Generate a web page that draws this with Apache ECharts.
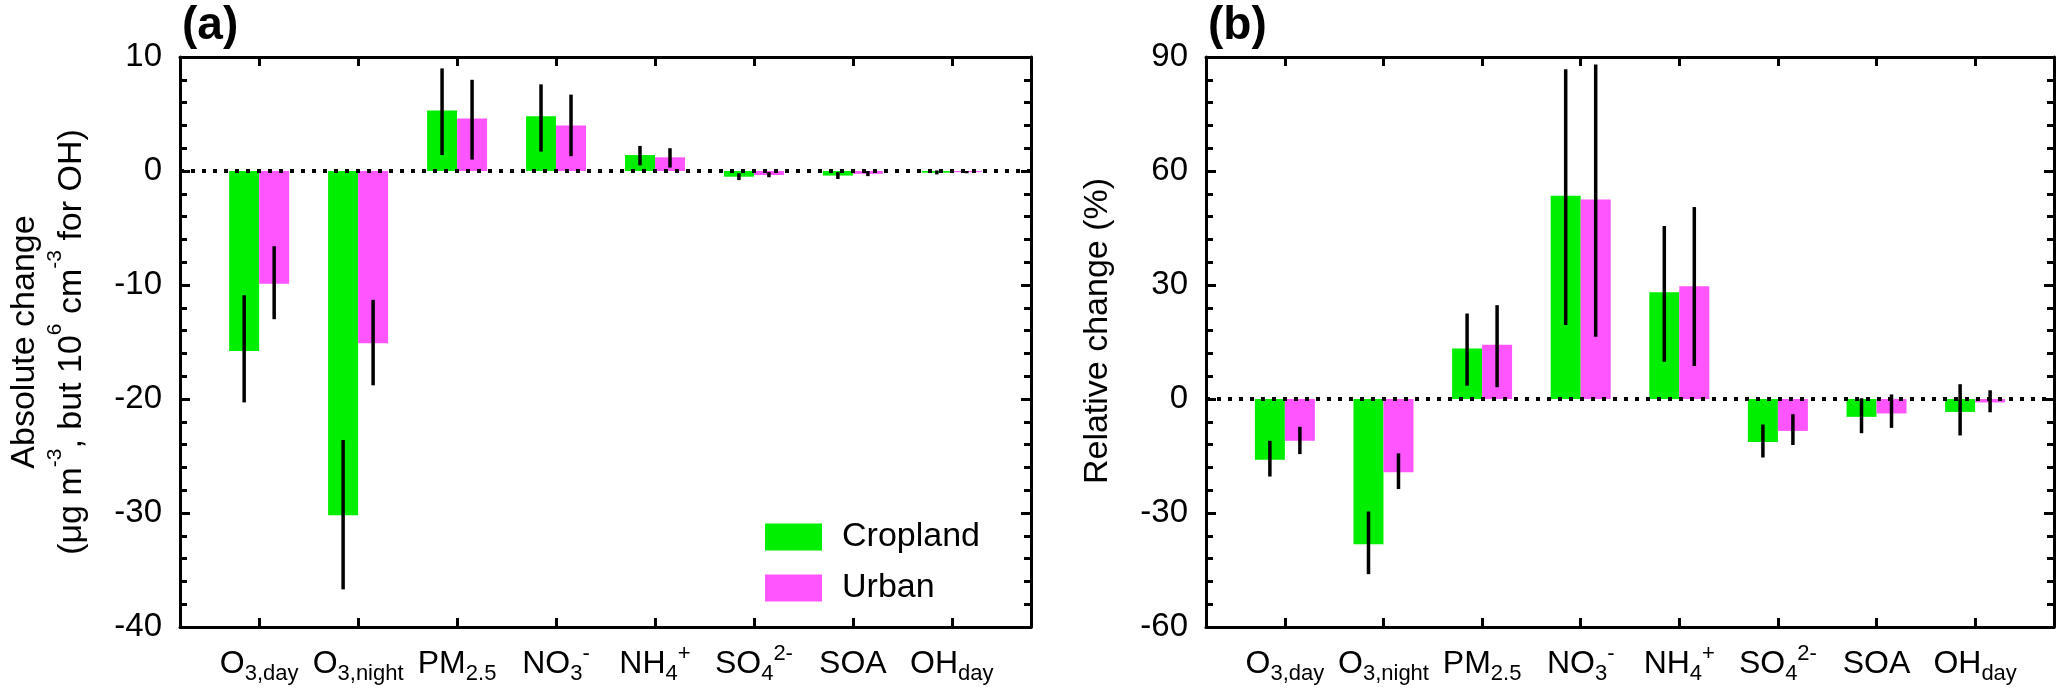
<!DOCTYPE html>
<html><head><meta charset="utf-8">
<script src="https://cdn.jsdelivr.net/npm/echarts@6/dist/echarts.min.js"></script>
<style>html,body{margin:0;padding:0;background:#fff}#c{width:2067px;height:690px}</style>
</head><body><div id="c"></div>
<script>
// ---------- data ----------
const categories = ['O3,day', 'O3,night', 'PM2.5', 'NO3-', 'NH4+', 'SO42-', 'SOA', 'OHday'];
const categoryLabels = ['O{sub|3,day}', 'O{sub|3,night}', 'PM{sub|2.5}', 'NO{sub|3}{sup|-}', 'NH{sub|4}{sup|+}', 'SO{sub|4}{sup|2-}', 'SOA', 'OH{sub|day}'];
const seriesNames = ['Cropland', 'Urban'];

// (a) absolute change
const absCropland     = [-15.8, -30.2, 5.3, 4.8, 1.4, -0.5, -0.4, -0.15];
const absCroplandLow  = [-20.3, -36.7, 1.4, 1.7, 0.5, -0.8, -0.7, -0.3];
const absCroplandHigh = [-10.9, -23.6, 9.0, 7.6, 2.2, -0.2, -0.1, 0.05];
const absUrban        = [-9.9, -15.1, 4.6, 4.0, 1.2, -0.35, -0.25, -0.1];
const absUrbanLow     = [-13.0, -18.8, 1.0, 1.3, 0.3, -0.55, -0.45, -0.2];
const absUrbanHigh    = [-6.6, -11.3, 8.0, 6.7, 2.0, -0.1, 0.0, 0.0];
const absTicks = [-40, -30, -20, -10, 0, 10];

// (b) relative change (%)
const relCropland     = [-16.0, -38.2, 13.3, 53.5, 28.1, -11.3, -4.7, -3.4];
const relCroplandLow  = [-20.4, -46.1, 3.5, 19.5, 9.8, -15.4, -9.0, -9.6];
const relCroplandHigh = [-11.0, -29.6, 22.5, 86.8, 45.5, -6.7, 0.2, 3.9];
const relUrban        = [-11.0, -19.3, 14.3, 52.5, 29.7, -8.4, -3.8, -0.9];
const relUrbanLow     = [-14.5, -23.7, 3.1, 16.4, 8.7, -12.1, -7.6, -3.5];
const relUrbanHigh    = [-7.3, -14.3, 24.7, 88.0, 50.5, -4.0, 1.2, 2.3];
const relTicks = [-60, -30, 0, 30, 60, 90];

const absName = 'Absolute change\n(μg m{sup|-3}, but 10{sup|6} cm{sup|-3} for OH)';
const relName = 'Relative change (%)';
const panelTitles = ['(a)', '(b)'];

// ---------- style ----------
const FONT = '"Liberation Sans", Arial, Helvetica, sans-serif';
const GREEN = '#00ee00', PINK = '#ff55ff';
const BAR_W = 30;
const grids = [
  {left: 180, top: 57, width: 851, height: 570},
  {left: 1206, top: 57, width: 848, height: 570}
];
const idx = categories.map((_, i) => i);
const xMin = -0.8, xMax = categories.length - 1 + 0.8;
const subSup = {
  sub: {fontSize: 22, lineHeight: 22, verticalAlign: 'bottom', fontFamily: FONT, color: '#000'},
  sup: {fontSize: 22, lineHeight: 22, verticalAlign: 'top', fontFamily: FONT, color: '#000'}
};
const lineBlack = {color: '#000', width: 3};

function makeX(grid, pos, labels) {
  return {
    type: 'value', gridIndex: grid, position: pos, min: xMin, max: xMax,
    axisLine: {show: true, onZero: false, lineStyle: lineBlack},
    axisTick: {show: true, inside: true, length: 9, customValues: idx, lineStyle: lineBlack},
    axisLabel: {
      show: labels, customValues: idx, margin: 16,
      formatter: v => categoryLabels[Math.round(v)],
      color: '#000', fontFamily: FONT, fontSize: 32, lineHeight: 42, rich: subSup
    },
    splitLine: {show: false}
  };
}
function makeY(grid, pos, ticks, labels, name, gap, shift) {
  return {
    type: 'value', gridIndex: grid, position: pos,
    min: ticks[0], max: ticks[ticks.length - 1], interval: ticks[1] - ticks[0],
    axisLine: {show: true, onZero: false, lineStyle: lineBlack},
    axisTick: {show: true, inside: true, length: 10, lineStyle: lineBlack},
    minorTick: {show: true, splitNumber: 5, length: 7, lineStyle: lineBlack},
    axisLabel: {show: labels, margin: 18, color: '#000', fontFamily: FONT, fontSize: 33},
    splitLine: {show: false}, minorSplitLine: {show: false},
    name: labels ? name : '', nameLocation: 'middle', nameGap: gap || 0,
    nameTextStyle: {
      color: '#000', fontFamily: FONT, fontSize: 34, lineHeight: 47,
      padding: [0, 0, 0, shift || 0],
      rich: {sup: {fontSize: 21, lineHeight: 15, height: 15, verticalAlign: 'top', fontFamily: FONT, color: '#000'}}
    }
  };
}

const panels = [
  {vals: [absCropland, absUrban], lows: [absCroplandLow, absUrbanLow], highs: [absCroplandHigh, absUrbanHigh]},
  {vals: [relCropland, relUrban], lows: [relCroplandLow, relUrbanLow], highs: [relCroplandHigh, relUrbanHigh]}
];
const colors = [GREEN, PINK];

const series = [];
panels.forEach((p, pi) => {
  seriesNames.forEach((name, si) => {
    series.push({
      type: 'bar', name: name, xAxisIndex: pi * 2, yAxisIndex: pi * 2,
      data: p.vals[si].map((v, i) => [i, v]),
      barWidth: BAR_W, barGap: '0%',
      itemStyle: {color: colors[si]}, z: 2, silent: true
    });
  });
  seriesNames.forEach((name, si) => {
    const off = (si === 0 ? -1 : 1) * BAR_W / 2;
    const s = {
      type: 'custom', name: name + ' error', xAxisIndex: pi * 2, yAxisIndex: pi * 2,
      data: p.lows[si].map((l, i) => [i, l, p.highs[si][i]]),
      encode: {x: 0, y: [1, 2]}, z: 4, silent: true,
      renderItem: (params, api) => {
        const a = api.coord([api.value(0), api.value(1)]);
        const b = api.coord([api.value(0), api.value(2)]);
        return {type: 'line', shape: {x1: a[0] + off, y1: a[1], x2: a[0] + off, y2: b[1]},
                style: {stroke: '#000', lineWidth: 3.5}};
      }
    };
    if (si === 0) {
      s.markLine = {symbol: 'none', silent: true, label: {show: false}, z: 6,
        lineStyle: {color: '#000', type: [4, 7], width: 4}, emphasis: {disabled: true},
        data: [{yAxis: 0}]};
    }
    series.push(s);
  });
});

const option = {
  animation: false,
  backgroundColor: '#fff',
  textStyle: {fontFamily: FONT},
  title: panelTitles.map((t, i) => ({
    text: t, left: grids[i].left + 2, top: 3, padding: 0,
    textStyle: {fontSize: 46, fontWeight: 'bold', color: '#000', fontFamily: FONT}
  })),
  legend: {
    data: seriesNames, orient: 'vertical', left: 765, top: 520, padding: 0,
    itemWidth: 57, itemHeight: 27, itemGap: 17, icon: 'rect',
    textStyle: {fontSize: 34, color: '#000', fontFamily: FONT, lineHeight: 27, padding: [0, 0, 0, 15]},
    selectedMode: false
  },
  grid: grids.map(g => Object.assign({outerBoundsMode: 'none', containLabel: false}, g)),
  xAxis: [makeX(0, 'bottom', true), makeX(0, 'top', false), makeX(1, 'bottom', true), makeX(1, 'top', false)],
  yAxis: [makeY(0, 'left', absTicks, true, absName, 85, 0), makeY(0, 'right', absTicks, false, ''),
          makeY(1, 'left', relTicks, true, relName, 85, 22), makeY(1, 'right', relTicks, false, '')],
  series: series
};
const chart = echarts.init(document.getElementById('c'));
chart.setOption(option);
</script></body></html>
